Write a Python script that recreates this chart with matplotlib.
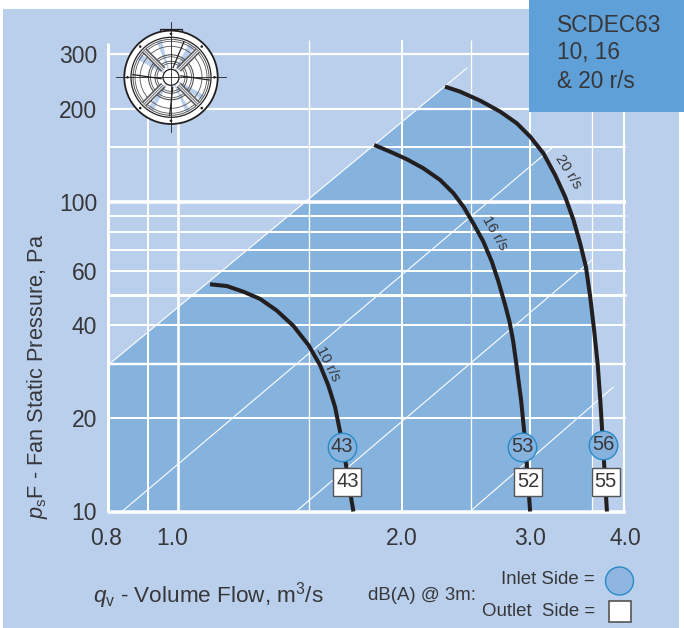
import numpy as np
import matplotlib
matplotlib.use("Agg")
import matplotlib.pyplot as plt
from matplotlib.patches import Circle, Rectangle, Wedge

plt.rcParams['font.family'] = ['Liberation Sans', 'DejaVu Sans']
plt.rcParams['mathtext.fontset'] = 'custom'
plt.rcParams['mathtext.rm'] = 'Liberation Sans'
plt.rcParams['mathtext.it'] = 'Liberation Sans:italic'

# ---- data -------------------------------------------------------------
q_10 = [1.100, 1.159, 1.220, 1.286, 1.354, 1.426, 1.495, 1.550, 1.590, 1.624, 1.650, 1.681, 1.702, 1.720]
p_10 = [54.2, 53.5, 51.3, 48.6, 44.6, 39.8, 34.5, 29.7, 25.6, 21.8, 18.1, 14.1, 11.6, 10]
q_16 = [1.835, 1.928, 2.032, 2.139, 2.254, 2.350, 2.424, 2.500, 2.580, 2.649, 2.704, 2.761, 2.800, 2.831,
        2.857, 2.884, 2.902, 2.938, 2.961, 2.985]
p_16 = [152.8, 145.4, 137.4, 128.5, 117.8, 106.7, 96.6, 85.3, 74.4, 64.1, 55.3, 46.5, 40.9, 35.5,
        30.4, 25.6, 22.9, 17.0, 13.1, 10]
q_20 = [2.289, 2.399, 2.554, 2.719, 2.863, 2.985, 3.111, 3.227, 3.329, 3.417, 3.489, 3.552, 3.600, 3.644,
        3.686, 3.715, 3.734, 3.761, 3.793]
p_20 = [235.8, 227.2, 212.5, 195.8, 179.6, 162.6, 143.6, 122.2, 104.0, 87.5, 73.5, 61.8, 49.4, 38.6,
        29.7, 22.9, 18.8, 14.1, 10]

speed_labels = ["10 r/s", "16 r/s", "20 r/s"]
speed_q = [1.590, 2.676, 3.357]
speed_p = [30.1, 79.2, 125.3]
speed_rot = [-63, -60, -58]

inlet_db = [43, 53, 56]
inlet_q = [1.659, 2.912, 3.748]
inlet_p = [16.2, 16.2, 16.4]
outlet_db = [43, 52, 55]
outlet_q = [1.688, 2.966, 3.777]
outlet_p = [12.5, 12.5, 12.5]

diag_q = [(0.8, 2.452), (0.8357, 3.208), (1.438, 3.622), (2.475, 3.867)]
diag_p = [(29.7, 271), (10, 150.6), (10, 65.0), (10, 25.2)]
fill_left = (0.8, 29.7)
fill_right_q = 3.62
fill_corner_p = 44

xgrid = [0.8, 0.905, 0.994, 1.496, 2.0, 2.48, 2.985, 3.62, 4.0]
xgrid_w = [3.0, 2.0, 2.6, 1.3, 2.0, 1.3, 2.0, 1.3, 2.2]
xgrid_top = [326, 333.6, 333.6, 333.6, 333.6, 333.6, 333.6, 333.6, 333.6]
ygrid = [10, 20, 30, 40, 50, 60, 70, 80, 90, 100, 150, 200, 300]
ygrid_w = [3.5, 2.0, 2.4, 2.0, 3.0, 2.0, 2.0, 2.0, 2.0, 3.6, 2.0, 2.2, 2.2]

xtick_pos = [0.795, 0.978, 2.0, 2.985, 4.02]
xtick_lab = ["0.8", "1.0", "2.0", "3.0", "4.0"]
ytick_pos = [10, 20, 40, 60, 100, 200, 300]
ytick_lab = ["10", "20", "40", "60", "100", "200", "300"]

BG = "#B9CFEB"; FILL = "#86B2DE"; BOX = "#5FA0D8"; INK = "#37373a"; CURVE = "#231F20"

W, H = 684, 628
fig = plt.figure(figsize=(W/100, H/100), dpi=100, facecolor="white")

# background layer in pixel coordinates
bg = fig.add_axes([0, 0, 1, 1], zorder=0)
bg.set_xlim(0, W); bg.set_ylim(H, 0); bg.axis("off")
bg.add_patch(Rectangle((3, 9), 676, 619, fc=BG, ec="none"))

# chart
ax = fig.add_axes([103.97/W, 1-511.5/H, 522.4/W, 471.5/H], zorder=1)
ax.patch.set_alpha(0)
ax.set_xscale("log"); ax.set_yscale("log")
ax.set_xlim(0.79, 4.03); ax.set_ylim(10, 333.6)
for s in ax.spines.values():
    s.set_visible(False)

# operating region: below the top diagonal and the 20 r/s curve
qf = [fill_left[0]] + [q for q in q_20 if q <= fill_right_q] + [fill_right_q, fill_right_q, fill_left[0]]
pf = [fill_left[1]] + [p for q, p in zip(q_20, p_20) if q <= fill_right_q] + [fill_corner_p, 10, 10]
ax.fill(qf, pf, color=FILL, lw=0, zorder=1)

for x, w, t in zip(xgrid, xgrid_w, xgrid_top):
    ax.plot([x, x], [10, t], color="white", lw=w*0.72, zorder=2, clip_on=False, solid_capstyle="butt")
for y, w in zip(ygrid, ygrid_w):
    ax.plot([0.8, 4.03], [y, y], color="white", lw=w*0.72, zorder=2, clip_on=False, solid_capstyle="butt")
for q, p in zip(diag_q, diag_p):
    ax.plot(q, p, color="white", lw=0.8, zorder=3)

for q, p in ((q_10, p_10), (q_16, p_16), (q_20, p_20)):
    ax.plot(q, p, color=CURVE, lw=2.9, zorder=4, solid_joinstyle="round", solid_capstyle="butt")
for t, q, p, r in zip(speed_labels, speed_q, speed_p, speed_rot):
    ax.text(q, p, t, rotation=r, rotation_mode="anchor", ha="center", va="center",
            fontsize=10.7, color=INK, zorder=5)

ax.plot(inlet_q, inlet_p, ls="none", marker="o", ms=20.5, mfc=FILL, mec="#2A8AC8", mew=1.0, zorder=6, clip_on=False)
ax.plot(outlet_q, outlet_p, ls="none", marker="s", ms=19.5, mfc="white", mec="#555555", mew=1.0, zorder=6, clip_on=False)
for d, q, p in zip(inlet_db, inlet_q, inlet_p):
    ax.text(q, p, str(d), ha="center", va="center", fontsize=14.5, color=INK, zorder=7)
for d, q, p in zip(outlet_db, outlet_q, outlet_p):
    ax.text(q, p, str(d), ha="center", va="center", fontsize=14.5, color=INK, zorder=7)

ax.set_xticks(xtick_pos, xtick_lab)
ax.set_yticks(ytick_pos, ytick_lab)
ax.minorticks_off()
ax.tick_params(which="both", length=0)
ax.tick_params(axis="x", labelsize=16.5, labelcolor=INK, pad=11)
ax.tick_params(axis="y", labelsize=16.5, labelcolor=INK, pad=5)

# overlay layer in pixel coordinates: title box, labels, legend, fan icon
ov = fig.add_axes([0, 0, 1, 1], zorder=2)
ov.set_xlim(0, W); ov.set_ylim(H, 0); ov.axis("off"); ov.patch.set_alpha(0)
ov.add_patch(Rectangle((529, 0), 155, 111.5, fc=BOX, ec="none"))
for t, y in zip(["SCDEC63", "10, 16", "& 20 r/s"], [25, 52, 81]):
    ov.text(557, y, t, fontsize=16.3, color=INK, va="center", ha="left")

ov.text(38, 376, r"$\mathit{p}_{\mathrm{s}}$F - Fan Static Pressure, Pa", rotation=90,
        ha="center", va="center", fontsize=15.7, color=INK)
ov.text(93, 596, r"$\mathit{q}_{\mathrm{v}}$ - Volume Flow, m$^{3}$/s", ha="left", va="center",
        fontsize=16.2, color=INK)
ov.text(368, 595, "dB(A) @ 3m:", ha="left", va="center", fontsize=13.4, color=INK)
ov.text(595, 579, "Inlet Side =", ha="right", va="center", fontsize=13.4, color=INK)
ov.text(595, 612, "Outlet  Side =", ha="right", va="center", fontsize=13.4, color=INK)
ov.add_patch(Circle((619.5, 581), 14, fc="#8FB6E0", ec="#2A8AC8", lw=1))
ov.add_patch(Rectangle((608.5, 600.5), 22, 21, fc="white", ec="#555555", lw=1.2))

# fan icon
cx, cy = 171, 77.3
k = "#231F20"; g = "#555558"
ov.add_patch(Rectangle((cx-11, 28.5), 22, 10, fc=BG, ec=k, lw=0.9, zorder=3))
ov.add_patch(Circle((cx, cy), 46.7, fc="white", ec=k, lw=1.3, zorder=4))
ov.add_patch(Circle((cx, cy), 40, fc="white", ec=k, lw=0.9, zorder=4))
for ang, span in ((-62, 10), (28, 9), (118, 9), (208, 10), (-112, 8), (60, 7)):
    ov.add_patch(Wedge((cx, cy), 38, ang, ang+span, fc=BG, ec="none", zorder=4.1))
for r, lw in ((38, 0.7), (36, 0.6), (31, 0.6), (22.5, 0.8), (20.5, 0.6), (16, 0.7), (14, 0.6)):
    ov.add_patch(Circle((cx, cy), r, fc="none", ec=g, lw=lw, zorder=5))
for a in np.deg2rad([45, 135, 225, 315]):
    ca, sa = np.cos(a), np.sin(a)
    ov.plot([cx+11*ca, cx+38*ca], [cy+11*sa, cy+38*sa], color=g, lw=4.4, zorder=5, solid_capstyle="butt")
    ov.plot([cx+11*ca, cx+38*ca], [cy+11*sa, cy+38*sa], color="#E8EAF0", lw=2.2, zorder=5.1, solid_capstyle="butt")
    ov.plot([cx+11*ca, cx+38*ca], [cy+11*sa, cy+38*sa], color=g, lw=0.5, zorder=5.2, solid_capstyle="butt")
# blade edges
for a0, a1 in ((-78, -70), (-8, 4), (80, 92), (172, 184)):
    a0, a1 = np.deg2rad(a0), np.deg2rad(a1)
    ov.plot([cx+10*np.cos(a0), cx+38*np.cos(a1)], [cy+10*np.sin(a0), cy+38*np.sin(a1)],
            color=k, lw=0.9, zorder=5.3)
ov.add_patch(Circle((cx, cy), 8, fc="white", ec=k, lw=0.9, zorder=6))
for a in np.deg2rad(np.arange(0, 360, 45)):
    ov.add_patch(Circle((cx+43.5*np.cos(a), cy+43.5*np.sin(a)), 1.3, fc=k, ec="none", zorder=6))
ov.plot([cx-55, cx+55], [cy, cy], color=k, lw=0.6, zorder=7)
ov.plot([cx, cx], [cy-55, cy+55], color=k, lw=0.6, zorder=7)

fig.savefig("out.png", dpi=100)
